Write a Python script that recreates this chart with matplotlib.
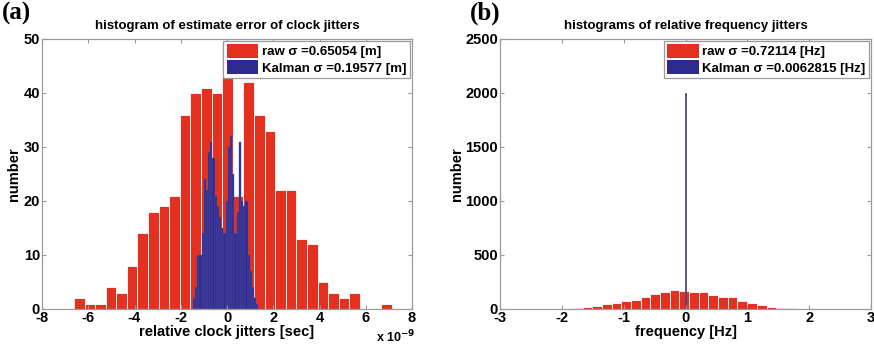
import numpy as np
import matplotlib.pyplot as plt
from matplotlib.patches import Patch

plt.rcParams['font.family'] = ['Liberation Sans', 'DejaVu Sans']
plt.rcParams['font.weight'] = 'bold'
plt.rcParams['axes.unicode_minus'] = False

RED = '#E4301E'
BLUE = '#2D2A8E'
AXIS_GRAY = '#9a9a9a'

# (a) clock jitter estimate error, x in units of 1e-9 s
raw_clock_counts = [2, 1, 1, 4, 3, 8, 14, 18, 19, 21, 36, 40, 41, 40, 49,
                    21, 42, 36, 33, 22, 22, 13, 12, 5, 3, 2, 3, 0, 0, 1]
raw_clock_range = (-6.62, 7.12)
kalman_clock_counts = [2, 4, 10, 10, 14, 24, 22, 29, 31, 28, 21, 19, 17, 15, 14,
                       20, 30, 32, 25, 14, 18, 31, 20, 19, 20, 10, 7, 4, 2, 1]
kalman_clock_range = (-1.48, 1.36)

# (b) relative frequency jitters [Hz]
raw_freq_counts = [6, 15, 28, 46, 59, 77, 83, 108, 136, 155, 176, 167, 161, 161,
                   130, 114, 108, 77, 53, 34, 22, 12, 6]
raw_freq_range = (-1.82, 1.78)
kalman_freq_counts = [2000]
kalman_freq_centers = [0.0]

legend_a = ['raw \u03c3 =0.65054 [m]', 'Kalman \u03c3 =0.19577 [m]']
legend_b = ['raw \u03c3 =0.72114 [Hz]', 'Kalman \u03c3 =0.0062815 [Hz]']


def hist_bars(ax, counts, rng, color, lw=0.6, ec='white'):
    edges = np.linspace(rng[0], rng[1], len(counts) + 1)
    centers = (edges[:-1] + edges[1:]) / 2
    ax.bar(centers, counts, width=edges[1] - edges[0], color=color,
           edgecolor=ec, linewidth=lw)


def style_axes(ax):
    for s in ax.spines.values():
        s.set_color(AXIS_GRAY)
        s.set_linewidth(0.9)
    ax.tick_params(direction='in', length=3, color=AXIS_GRAY, labelsize=10.5,
                   top=True, right=True, pad=1.5)
    for lab in ax.get_xticklabels() + ax.get_yticklabels():
        lab.set_fontweight('bold')


def add_legend(ax, labels):
    handles = [Patch(facecolor=RED, edgecolor='none'),
               Patch(facecolor=BLUE, edgecolor='none')]
    leg = ax.legend(handles, labels, loc='upper right', bbox_to_anchor=(1.0, 1.0),
                    borderaxespad=0.15, fancybox=False, framealpha=1,
                    edgecolor=AXIS_GRAY, prop={'weight': 'bold', 'size': 9.5},
                    handlelength=2.4, handleheight=1.2, handletextpad=0.3,
                    labelspacing=0.15, borderpad=0.25)
    leg.get_frame().set_linewidth(0.9)


fig = plt.figure(figsize=(8.74, 3.5), dpi=100)

# ---- panel (a)
ax1 = fig.add_axes([42 / 874, 41 / 350, 370 / 874, 270 / 350])
hist_bars(ax1, raw_clock_counts, raw_clock_range, RED)
hist_bars(ax1, kalman_clock_counts, kalman_clock_range, BLUE, lw=0.3, ec='#5a57a8')
ax1.set_xlim(-8, 8)
ax1.set_ylim(0, 50)
ax1.set_xticks(np.arange(-8, 9, 2))
ax1.set_yticks(np.arange(0, 51, 10))
style_axes(ax1)
ax1.set_title('histogram of estimate error of clock jitters', fontsize=9.5,
              fontweight='bold', pad=7)
ax1.set_xlabel('relative clock jitters [sec]', fontsize=10.5, fontweight='bold', labelpad=0)
ax1.set_ylabel('number', fontsize=10.5, fontweight='bold', labelpad=2)
ax1.text(0.955, -0.125, 'x 10$^{-9}$', transform=ax1.transAxes, fontsize=9,
         fontweight='bold', ha='center', va='baseline')
add_legend(ax1, legend_a)

# ---- panel (b)
ax2 = fig.add_axes([500 / 874, 41 / 350, 371 / 874, 270 / 350])
hist_bars(ax2, raw_freq_counts, raw_freq_range, RED)
ax2.bar(kalman_freq_centers, kalman_freq_counts, width=0.012, color='#4a4a8a',
        edgecolor='#4a4a8a', linewidth=0.6)
ax2.set_xlim(-3, 3)
ax2.set_ylim(0, 2500)
ax2.set_xticks(np.arange(-3, 4, 1))
ax2.set_yticks(np.arange(0, 2501, 500))
style_axes(ax2)
ax2.set_title('histograms of relative frequency jitters', fontsize=9.5,
              fontweight='bold', pad=7)
ax2.set_xlabel('frequency [Hz]', fontsize=10.5, fontweight='bold', labelpad=0)
ax2.set_ylabel('number', fontsize=10.5, fontweight='bold', labelpad=1)
add_legend(ax2, legend_b)

fig.text(2 / 874, 1 - 2 / 350, '(a)', family='Liberation Serif', fontsize=18,
         fontweight='bold', va='top', ha='left')
fig.text(470 / 874, 1 - 2 / 350, '(b)', family='Liberation Serif', fontsize=18,
         fontweight='bold', va='top', ha='left')

fig.savefig('out.png', dpi=100)
